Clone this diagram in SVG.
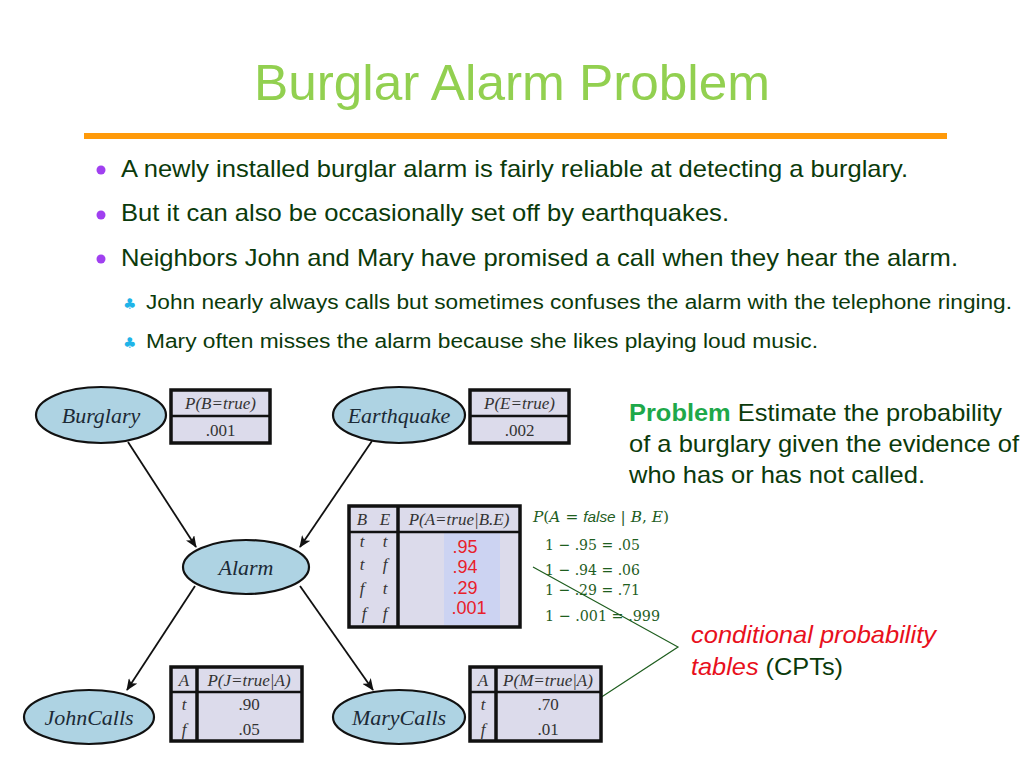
<svg xmlns="http://www.w3.org/2000/svg" width="1024" height="768" viewBox="0 0 1024 768">
<defs>
<style>
.title{font-family:"Liberation Sans",Arial,sans-serif;font-size:50px;fill:#92d050}
.bul{font-family:"Liberation Sans",Arial,sans-serif;font-size:24px;fill:#0b3a0b}
.sub{font-family:"Liberation Sans",Arial,sans-serif;font-size:20px;fill:#0b3a0b}
.club{font-family:"DejaVu Sans",sans-serif;font-size:15px;fill:#1fb4e8}
.node ellipse{fill:#aed3e3;stroke:#111;stroke-width:2.2}
.node text{font-family:"Liberation Serif","Times New Roman",serif;font-style:italic;font-size:22px;fill:#1c2a36;text-anchor:middle}
.tbl rect.bg{fill:#dcdbeb;stroke:#111;stroke-width:3.5}
.tbl line{stroke:#111;stroke-width:2.5}
.tbl line.thick{stroke-width:3.5}
.ti{font-family:"Liberation Serif","Times New Roman",serif;font-style:italic;font-size:17px;fill:#333;text-anchor:middle}
.tv{font-family:"Liberation Serif","Times New Roman",serif;font-size:17px;fill:#333;text-anchor:middle}
.red{font-family:"Liberation Sans",Arial,sans-serif;font-size:18px;fill:#e8202a;text-anchor:middle}
.eq{font-family:"DejaVu Serif","Liberation Serif",serif;font-size:15px;fill:#1f5e1f}
.prob{font-family:"Liberation Sans",Arial,sans-serif;font-size:24px;fill:#0b3a0b}
.cpt{font-family:"Liberation Sans",Arial,sans-serif;font-size:24px}
.edge{stroke:#111;stroke-width:1.8;fill:none;marker-end:url(#arr)}
.brk{stroke:#1f5e1f;stroke-width:1.2;fill:none}
</style>
<marker id="arr" viewBox="0 0 12 10" refX="11" refY="5" markerWidth="12" markerHeight="10" markerUnits="userSpaceOnUse" orient="auto">
<path d="M0,0 L12,5 L0,10 L3,5 z" fill="#111"/>
</marker>
</defs>
<rect width="1024" height="768" fill="#fff"/>

<text class="title" x="254" y="100" textLength="516" lengthAdjust="spacingAndGlyphs">Burglar Alarm Problem</text>
<rect x="84" y="133" width="863" height="6" fill="#ff9a0a"/>

<g id="bullets">
<circle cx="101" cy="170" r="4.5" fill="#a040f0"/>
<text class="bul" x="121" y="177" textLength="787" lengthAdjust="spacingAndGlyphs">A newly installed burglar alarm is fairly reliable at detecting a burglary.</text>
<circle cx="101" cy="215" r="4.5" fill="#a040f0"/>
<text class="bul" x="121" y="221" textLength="608" lengthAdjust="spacingAndGlyphs">But it can also be occasionally set off by earthquakes.</text>
<circle cx="101" cy="259" r="4.5" fill="#a040f0"/>
<text class="bul" x="121" y="266" textLength="837" lengthAdjust="spacingAndGlyphs">Neighbors John and Mary have promised a call when they hear the alarm.</text>
<text class="club" x="123" y="309">♣</text>
<text class="sub" x="146" y="309" textLength="866" lengthAdjust="spacingAndGlyphs">John nearly always calls but sometimes confuses the alarm with the telephone ringing.</text>
<text class="club" x="123" y="348">♣</text>
<text class="sub" x="146" y="348" textLength="672" lengthAdjust="spacingAndGlyphs">Mary often misses the alarm because she likes playing loud music.</text>
</g>

<g id="problem">
<text class="prob" x="629" y="421" textLength="373" lengthAdjust="spacingAndGlyphs"><tspan font-weight="bold" fill="#1ea84a">Problem</tspan> Estimate the probability</text>
<text class="prob" x="629" y="452" textLength="390" lengthAdjust="spacingAndGlyphs">of a burglary given the evidence of</text>
<text class="prob" x="629" y="483" textLength="296" lengthAdjust="spacingAndGlyphs">who has or has not called.</text>
</g>

<g id="connectors">
<line class="edge" x1="128" y1="442" x2="196" y2="547"/>
<line class="edge" x1="372" y1="441" x2="300" y2="547"/>
<line class="edge" x1="195" y1="586" x2="127" y2="690"/>
<line class="edge" x1="300" y1="586" x2="373" y2="690"/>
<polyline class="brk" points="533,567 678,647 600,698"/>
</g>

<g id="burglary" class="node">
<ellipse cx="101" cy="415" rx="65" ry="28"/>
<text x="101" y="423">Burglary</text>
</g>
<g id="earthquake" class="node">
<ellipse cx="399" cy="415" rx="66" ry="28"/>
<text x="399" y="423">Earthquake</text>
</g>
<g id="alarm" class="node">
<ellipse cx="246" cy="567" rx="63" ry="27"/>
<text x="246" y="575">Alarm</text>
</g>
<g id="johncalls" class="node">
<ellipse cx="89" cy="717" rx="65" ry="27"/>
<text x="89" y="725">JohnCalls</text>
</g>
<g id="marycalls" class="node">
<ellipse cx="399" cy="717" rx="66" ry="27"/>
<text x="399" y="725">MaryCalls</text>
</g>

<g id="cpt-b" class="tbl">
<rect class="bg" x="171" y="390" width="99" height="53"/>
<line x1="171" y1="416" x2="270" y2="416"/>
<text class="ti" x="220.5" y="409">P(B=true)</text>
<text class="tv" x="220.5" y="436">.001</text>
</g>
<g id="cpt-e" class="tbl">
<rect class="bg" x="470" y="390" width="99" height="53"/>
<line x1="470" y1="416" x2="569" y2="416"/>
<text class="ti" x="519.5" y="409">P(E=true)</text>
<text class="tv" x="519.5" y="436">.002</text>
</g>

<g id="cpt-a" class="tbl">
<rect class="bg" x="349" y="506" width="171" height="121"/>
<rect x="444" y="533" width="56" height="92" fill="#ccd3f2"/>
<line x1="349" y1="532" x2="520" y2="532"/>
<line class="thick" x1="398" y1="506" x2="398" y2="627"/>
<text class="ti" x="362" y="525">B</text>
<text class="ti" x="385" y="525">E</text>
<text class="ti" x="459" y="525">P(A=true|B.E)</text>
<text class="ti" x="362" y="547">t</text><text class="ti" x="385" y="547">t</text>
<text class="ti" x="362" y="570">t</text><text class="ti" x="385" y="570">f</text>
<text class="ti" x="362" y="594">f</text><text class="ti" x="385" y="594">t</text>
<text class="ti" x="364" y="619">f</text><text class="ti" x="385" y="619">f</text>
<text class="red" x="465" y="553">.95</text>
<text class="red" x="465" y="573">.94</text>
<text class="red" x="465" y="594">.29</text>
<text class="red" x="469" y="614">.001</text>
</g>

<g id="cpt-j" class="tbl">
<rect class="bg" x="171" y="667" width="131" height="74"/>
<line x1="171" y1="692" x2="302" y2="692"/>
<line class="thick" x1="197" y1="667" x2="197" y2="741"/>
<text class="ti" x="184" y="686">A</text>
<text class="ti" x="249" y="686">P(J=true|A)</text>
<text class="ti" x="184" y="710">t</text>
<text class="tv" x="249" y="710">.90</text>
<text class="ti" x="184" y="735">f</text>
<text class="tv" x="249" y="735">.05</text>
</g>
<g id="cpt-m" class="tbl">
<rect class="bg" x="470" y="667" width="131" height="74"/>
<line x1="470" y1="692" x2="601" y2="692"/>
<line class="thick" x1="496" y1="667" x2="496" y2="741"/>
<text class="ti" x="483" y="686">A</text>
<text class="ti" x="548" y="686">P(M=true|A)</text>
<text class="ti" x="483" y="710">t</text>
<text class="tv" x="548" y="710">.70</text>
<text class="ti" x="483" y="735">f</text>
<text class="tv" x="548" y="735">.01</text>
</g>

<g id="false-probs">
<text class="eq" x="533" y="522" textLength="136" lengthAdjust="spacingAndGlyphs"><tspan font-style="italic">P</tspan>(<tspan font-style="italic">A</tspan> = <tspan font-family="Liberation Sans,Arial,sans-serif" font-style="italic">false</tspan> | <tspan font-style="italic">B</tspan>, <tspan font-style="italic">E</tspan>)</text>
<text class="eq" x="545" y="550" textLength="95" lengthAdjust="spacingAndGlyphs">1 − .95 = .05</text>
<text class="eq" x="545" y="575" textLength="95" lengthAdjust="spacingAndGlyphs">1 − .94 = .06</text>
<text class="eq" x="545" y="595" textLength="95" lengthAdjust="spacingAndGlyphs">1 − .29 = .71</text>
<text class="eq" x="545" y="621" textLength="115" lengthAdjust="spacingAndGlyphs">1 − .001 = .999</text>
</g>

<g id="cpt-label">
<text class="cpt" x="691" y="643" font-style="italic" fill="#e8101c" textLength="245" lengthAdjust="spacingAndGlyphs">conditional probability</text>
<text class="cpt" x="691" y="675" textLength="152" lengthAdjust="spacingAndGlyphs"><tspan font-style="italic" fill="#e8101c">tables</tspan><tspan fill="#0b3a0b"> (CPTs)</tspan></text>
</g>
</svg>
